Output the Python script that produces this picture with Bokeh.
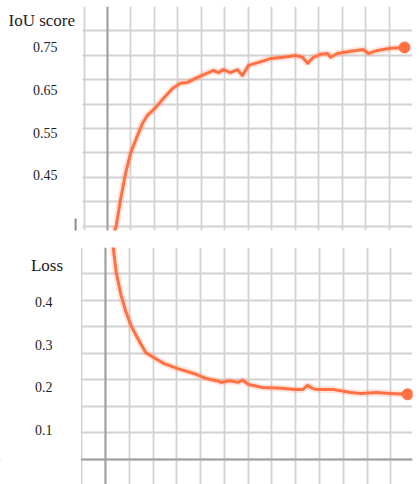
import numpy as np
from bokeh.plotting import figure
from bokeh.layouts import column
from bokeh.models import FixedTicker, Span, Label, BoxAnnotation, Grid
from bokeh.embed import file_html
from bokeh.resources import INLINE

# ---- data ----
iou_step = [0.30, 0.38, 0.55, 0.77, 0.98, 1.28, 1.49, 1.70, 2.05, 2.39, 2.77, 3.11, 3.41,
            3.84, 4.25, 4.52, 4.73, 4.94, 5.24, 5.54, 5.75, 6.01, 6.44, 6.95, 7.50, 8.01,
            8.31, 8.53, 8.78, 9.08, 9.38, 9.51, 9.80, 10.36, 10.91, 11.13, 11.51, 12.06,
            12.66]
iou = [0.318, 0.335, 0.392, 0.455, 0.502, 0.544, 0.572, 0.591, 0.609, 0.631, 0.654, 0.666,
       0.668, 0.680, 0.690, 0.696, 0.691, 0.698, 0.691, 0.698, 0.684, 0.708, 0.715, 0.724,
       0.727, 0.731, 0.727, 0.713, 0.727, 0.734, 0.736, 0.727, 0.736, 0.741, 0.745, 0.736,
       0.743, 0.748, 0.750]

loss_step = [0.28, 0.33, 0.45, 0.66, 0.87, 1.07, 1.36, 1.69, 2.10, 2.47, 3.01, 3.71, 4.25,
             4.66, 4.87, 5.20, 5.57, 5.77, 6.02, 6.60, 7.42, 7.96, 8.29, 8.49, 8.70, 8.91,
             9.61, 10.31, 10.72, 11.38, 11.96, 12.70]
loss = [0.545, 0.527, 0.471, 0.416, 0.376, 0.346, 0.315, 0.282, 0.268, 0.256, 0.245, 0.233,
        0.221, 0.216, 0.212, 0.216, 0.212, 0.217, 0.207, 0.200, 0.198, 0.195, 0.195, 0.205,
        0.198, 0.195, 0.195, 0.188, 0.186, 0.188, 0.186, 0.184]

iou_ticks = [0.45, 0.55, 0.65, 0.75]
loss_ticks = [0.1, 0.2, 0.3, 0.4]
iou_title = "IoU score"
loss_title = "Loss"

ORANGE = "#ff7043"
GRID = "#d2d2d2"
DARK = "#a0a0a0"
TEXT = "#222222"
FONT = "Liberation Serif"


def make_panel(height, xr, yr, b_top, b_bottom, b_right, grid_y):
    p = figure(width=420, height=height, x_range=xr, y_range=yr,
               output_backend="svg", toolbar_location=None,
               min_border_left=0, min_border_right=b_right,
               min_border_top=b_top, min_border_bottom=b_bottom,
               outline_line_color=None, background_fill_color="white",
               border_fill_color="white")
    p.xaxis.visible = False
    p.yaxis.visible = False
    p.xgrid.ticker = FixedTicker(ticks=list(range(-1, 14)))
    p.ygrid.ticker = FixedTicker(ticks=list(grid_y))
    p.grid.grid_line_color = GRID
    p.grid.grid_line_width = 1.8
    p.add_layout(Span(location=0, dimension="height", line_color=DARK, line_width=2))
    return p


def cover_margin(p, grid_left):
    # hide grid lines in the label margin
    p.add_layout(BoxAnnotation(left=p.x_range.start - 1, right=grid_left,
                               fill_color="white", fill_alpha=1.0,
                               line_color=None, level="underlay"))


def add_texts(p, ticks, tick_x, title, title_x, title_y):
    for t in ticks:
        p.add_layout(Label(x=tick_x, y=t, text=f"{t:g}", text_font=FONT,
                           text_font_size="14px", text_color=TEXT,
                           text_align="right", text_baseline="middle"))
    p.add_layout(Label(x=title_x, y=title_y, text=title, text_font=FONT,
                       text_font_size="17px", text_color=TEXT,
                       text_align="left", text_baseline="middle"))


def draw_curve(p, xs, ys):
    p.line(xs, ys, line_color=ORANGE, line_width=7, line_alpha=0.18)
    p.line(xs, ys, line_color=ORANGE, line_width=3, line_join="round")
    p.scatter([xs[-1]], [ys[-1]], size=11, color=ORANGE)


# ---- top panel: IoU score ----
top_grid = np.linspace(0.331, 0.846, 10)
p1 = make_panel(232, (-4.561, 13.0), (0.321, 0.846), 6, 2, 8, top_grid)
cover_margin(p1, -1.066)
p1.segment(x0=[-1.36], y0=[0.349], x1=[-1.36], y1=[0.297], line_color="#8c8c8c", line_width=2)
draw_curve(p1, iou_step, iou)
add_texts(p1, iou_ticks, -2.131, iou_title, -4.22, 0.813)

# ---- bottom panel: Loss ----
bot_grid = np.linspace(0.031, 0.529, 9)
p2 = make_panel(252, (-4.412, 12.907), (-0.028, 0.529), 15, 0, 0, bot_grid)
p2.add_layout(Grid(dimension=1, ticker=FixedTicker(ticks=[bot_grid[0]]),
                   grid_line_color=DARK, grid_line_width=2))
cover_margin(p2, -1.031)
draw_curve(p2, loss_step, loss)
add_texts(p2, loss_ticks, -2.227, loss_title, -3.134, 0.487)

layout = column(p1, p2, spacing=0)
open("out.html", "w").write(file_html(layout, INLINE))
